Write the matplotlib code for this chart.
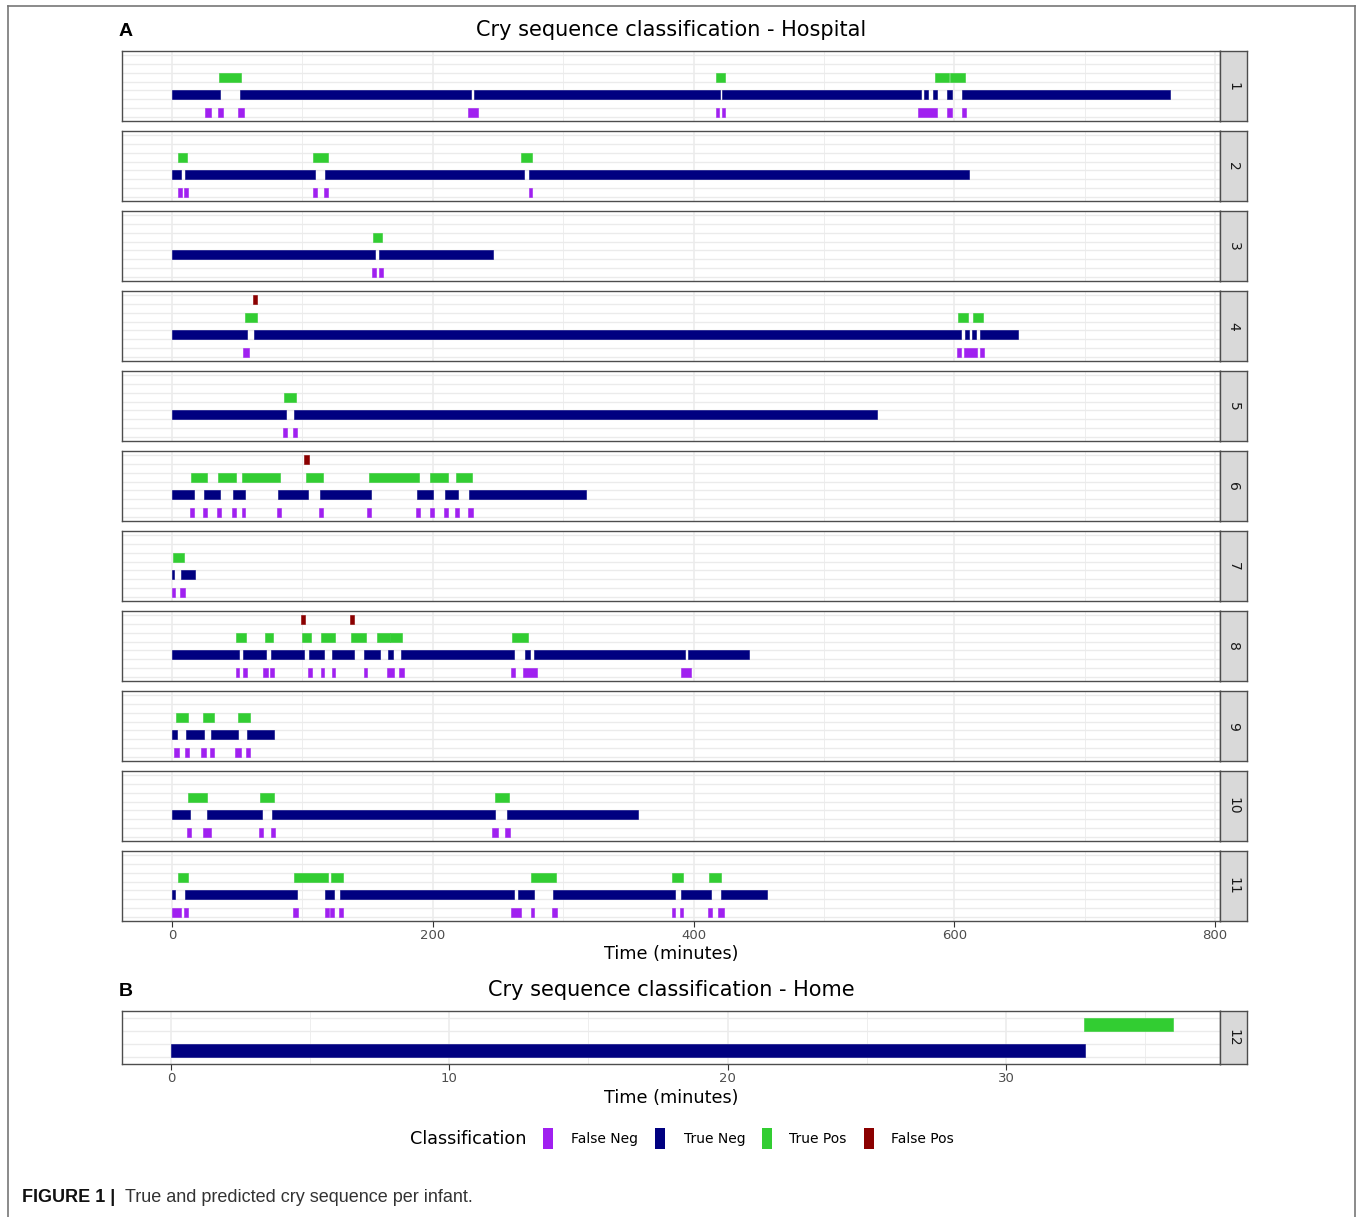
import matplotlib
matplotlib.use("Agg")
import matplotlib.pyplot as plt
from matplotlib.patches import Rectangle
from matplotlib.lines import Line2D

W, H = 1357, 1217

# classification colours (ggplot names)
C_FN = "#A020F0"   # purple
C_TN = "#000080"   # navy
C_TP = "#32CD32"   # limegreen
C_FP = "#8B0000"   # darkred

CLASSES = ["False Neg", "True Neg", "True Pos", "False Pos"]
COLORS = [C_FN, C_TN, C_TP, C_FP]

# intervals (start, end) in minutes, per infant -- hospital recordings 1..11
TRUE_NEG = {
    1: [(0, 37), (52, 229), (232, 420), (422, 574.5), (577, 579.5), (583.5, 586.5),
        (594, 598.5), (606, 765.4)],
    2: [(0, 7), (9.7, 110), (117.3, 270), (273.6, 611.4)],
    3: [(0, 155.8), (159, 246.4)],
    4: [(0, 57.7), (62.8, 604.8), (608.2, 611), (613.5, 616.3), (620, 648.5)],
    5: [(0, 87.8), (93.6, 541)],
    6: [(0, 16.6), (24.5, 37.2), (46.7, 56), (81.4, 104.3), (113.3, 152.3),
        (187.8, 200.3), (209.4, 219.4), (228, 317.6)],
    7: [(0, 1.5), (7.1, 17.9)],
    8: [(0, 51.8), (54.8, 72.4), (75.8, 101.5), (105.1, 116.8), (123, 139.3),
        (147.4, 159.4), (165.6, 169.9), (175.5, 262.2), (270.7, 274.7),
        (277.6, 393.4), (395.4, 442.3)],
    9: [(0, 4.2), (10.6, 24.8), (29.8, 50.9), (57.8, 78.6)],
    10: [(0, 14.2), (27.2, 69.1), (76.5, 248), (257, 357.5)],
    11: [(0, 2.6), (9.8, 95.8), (117.7, 124.3), (128.8, 262.5), (265.4, 277.3),
         (292.3, 385.7), (390, 413.3), (421, 456.4)],
}
TRUE_POS = {
    1: [(36, 53), (417, 424), (585, 596), (596.5, 608.5)],
    2: [(4.5, 11.5), (108.5, 119.4), (267.6, 276)],
    3: [(154, 161)],
    4: [(56, 65), (602.6, 610.2), (614.5, 622.2)],
    5: [(85.7, 95.4)],
    6: [(14.5, 26.8), (35, 49), (53.8, 83.2), (102.5, 115.6), (150.8, 189.8),
        (198, 211.5), (217.6, 229.8)],
    7: [(0.5, 8.9)],
    8: [(49.2, 56.9), (71.4, 77.6), (100, 106.6), (114.5, 125), (137, 149.2),
        (156.9, 167), (167, 176.5), (261, 273)],
    9: [(2.9, 12.1), (24, 31.9), (50.9, 59.6)],
    10: [(12.4, 26.9), (67.5, 78.6), (247.8, 258.3)],
    11: [(4.5, 12.1), (93.9, 120), (122.2, 131.1), (275.2, 294.2), (383.4, 391.8),
         (411.5, 421)],
}
FALSE_NEG = {
    1: [(25, 30), (35, 39), (51, 55), (227, 235), (417, 419.5), (421.5, 424.5),
        (572.5, 587), (594, 598.5), (606, 609)],
    2: [(4.5, 7.6), (9, 12), (108, 111), (117, 119.7), (273.6, 276.4)],
    3: [(153.6, 156.7), (158.5, 161.5)],
    4: [(54.8, 59), (602.3, 605.4), (607.7, 617.3), (619.6, 622.4)],
    5: [(85.2, 88), (92.9, 96)],
    6: [(14, 16.8), (24, 27), (34.7, 37.5), (46.4, 49.2), (53.6, 56.4), (80.6, 84),
        (112.8, 116), (149.7, 152.8), (187, 190.3), (197.7, 200.8), (209, 212),
        (216.8, 220), (227, 230.6)],
    7: [(0, 2.6), (6.4, 9.7)],
    8: [(49.2, 51.8), (54.3, 57.4), (70.2, 73.5), (75.3, 78), (104.3, 107.7),
        (114.5, 117), (122.4, 125.3), (147, 149.7), (165.3, 170.2), (174, 177.6),
        (260, 262.8), (269.4, 280.1), (390.6, 398)],
    9: [(1.8, 5.3), (9.8, 12.9), (22.2, 26.4), (29.3, 32.5), (48.3, 53), (57, 60.2)],
    10: [(11.9, 15), (24, 29.8), (66.8, 69.7), (76, 78.9), (245.6, 250.4),
         (255.7, 259.4)],
    11: [(0, 7.1), (9.5, 12.1), (93.1, 96.6), (117.4, 120.6), (121.6, 124.5),
         (128.2, 131.4), (260.2, 267.8), (275, 277.6), (291.6, 295), (383.4, 386),
         (389.3, 392.3), (411, 413.8), (418.6, 423.2)],
}
FALSE_POS = {
    4: [(62.2, 65.3)],
    6: [(101.5, 105)],
    8: [(98.7, 102.3), (136.7, 139.5)],
}

# home recording (infant 12)
HOME_TN = [(0, 32.85)]
HOME_TP = [(32.8, 36.0)]

HOSP_TICKS = [0, 200, 400, 600, 800]
HOSP_MINOR = [100, 300, 500, 700]
HOME_TICKS = [0, 10, 20, 30]
HOME_MINOR = [5, 15, 25, 35]

GRID = "#EBEBEB"
BORDER = "#4D4D4D"

fig = plt.figure(figsize=(W / 100, H / 100), dpi=100)


def axes_px(left, top, right, bottom):
    return fig.add_axes([left / W, 1 - bottom / H, (right - left) / W, (bottom - top) / H])


def draw_bars(ax, intervals, y, color):
    if not intervals:
        return
    ax.broken_barh([(s, e - s) for s, e in intervals], (y - 0.25, 0.5),
                   facecolors=color, edgecolors=color, linewidth=0.4, zorder=3)


def style_panel(ax, xlim, ylim, major, minor, hlines, show_x):
    ax.set_xlim(*xlim)
    ax.set_ylim(*ylim)
    for x in major:
        ax.axvline(x, color=GRID, lw=1.1, zorder=0)
    for x in minor:
        ax.axvline(x, color=GRID, lw=0.6, zorder=0)
    for y in hlines:
        ax.axhline(y, color=GRID, lw=1.0, zorder=0)
    ax.set_yticks([])
    for s in ax.spines.values():
        s.set_color(BORDER)
        s.set_linewidth(1.0)
    if show_x:
        ax.set_xticks(major)
        ax.tick_params(axis="x", length=4, width=0.8, color="#333333",
                       labelcolor="#4D4D4D", labelsize=9.5, pad=2)
    else:
        ax.set_xticks([])


def strip(top, bottom, label):
    sax = axes_px(1220, top, 1247, bottom)
    sax.set_facecolor("#D9D9D9")
    sax.set_xticks([]); sax.set_yticks([])
    for s in sax.spines.values():
        s.set_color(BORDER)
        s.set_linewidth(1.0)
    sax.text(0.5, 0.5, label, rotation=-90, ha="center", va="center",
             fontsize=10, color="#1A1A1A", transform=sax.transAxes)


# ---- A: hospital
HOSP_XLIM = (-38.27, 803.7)
for i in range(1, 12):
    top = 51 + (i - 1) * 80
    bottom = top + 70
    ax = axes_px(122, top, 1220, bottom)
    style_panel(ax, HOSP_XLIM, (0.55, 4.45), HOSP_TICKS, HOSP_MINOR,
                [0.75, 1.25, 1.75, 2.25, 2.75, 3.25, 3.75, 4.25], show_x=(i == 11))
    draw_bars(ax, FALSE_NEG.get(i, []), 1, C_FN)
    draw_bars(ax, TRUE_NEG.get(i, []), 2, C_TN)
    draw_bars(ax, TRUE_POS.get(i, []), 3, C_TP)
    draw_bars(ax, FALSE_POS.get(i, []), 4, C_FP)
    strip(top, bottom, str(i))

# ---- B: home
axb = axes_px(122, 1011, 1220, 1064)
style_panel(axb, (-1.76, 37.69), (0.5, 2.5), HOME_TICKS, HOME_MINOR,
            [0.75, 1.25, 1.75, 2.25], show_x=True)
draw_bars(axb, HOME_TN, 1, C_TN)
draw_bars(axb, HOME_TP, 2, C_TP)
strip(1011, 1064, "12")


def ftext(x, y, s, **kw):
    fig.text(x / W, 1 - y / H, s, **kw)


ftext(119, 31, "A", fontsize=14, fontweight="bold", va="center", ha="left",
      family="Liberation Sans")
ftext(671, 30, "Cry sequence classification - Hospital", fontsize=15,
      ha="center", va="center")
ftext(671, 954, "Time (minutes)", fontsize=12.7, ha="center", va="center")

ftext(119, 991, "B", fontsize=14, fontweight="bold", va="center", ha="left",
      family="Liberation Sans")
ftext(671, 990, "Cry sequence classification - Home", fontsize=15,
      ha="center", va="center")
ftext(671, 1098, "Time (minutes)", fontsize=12.7, ha="center", va="center")

# legend
ftext(410, 1139, "Classification", fontsize=12.7, ha="left", va="center")
key_x = [543, 655, 762, 864]
lab_x = [571, 684, 789, 891]
for kx, lx, lab, col in zip(key_x, lab_x, CLASSES, COLORS):
    fig.add_artist(Rectangle((kx / W, 1 - 1149 / H), 10 / W, 21 / H,
                             facecolor=col, edgecolor="none",
                             transform=fig.transFigure))
    ftext(lx, 1139, lab, fontsize=10, ha="left", va="center")

# caption
ftext(22, 1197, "FIGURE 1 |", fontsize=13, fontweight="bold", ha="left",
      va="center", family="Liberation Sans", color="#111111")
ftext(125, 1197, "True and predicted cry sequence per infant.", fontsize=13,
      ha="left", va="center", family="Liberation Sans", color="#333333")

# outer frame
for xs, ys in [((8, 8), (6, H)), ((8, 1355), (6, 6)), ((1355, 1355), (6, H))]:
    fig.add_artist(Line2D([x / W for x in xs], [1 - y / H for y in ys],
                          color="#777777", lw=1.2, transform=fig.transFigure))

fig.savefig("out.png", dpi=100)
